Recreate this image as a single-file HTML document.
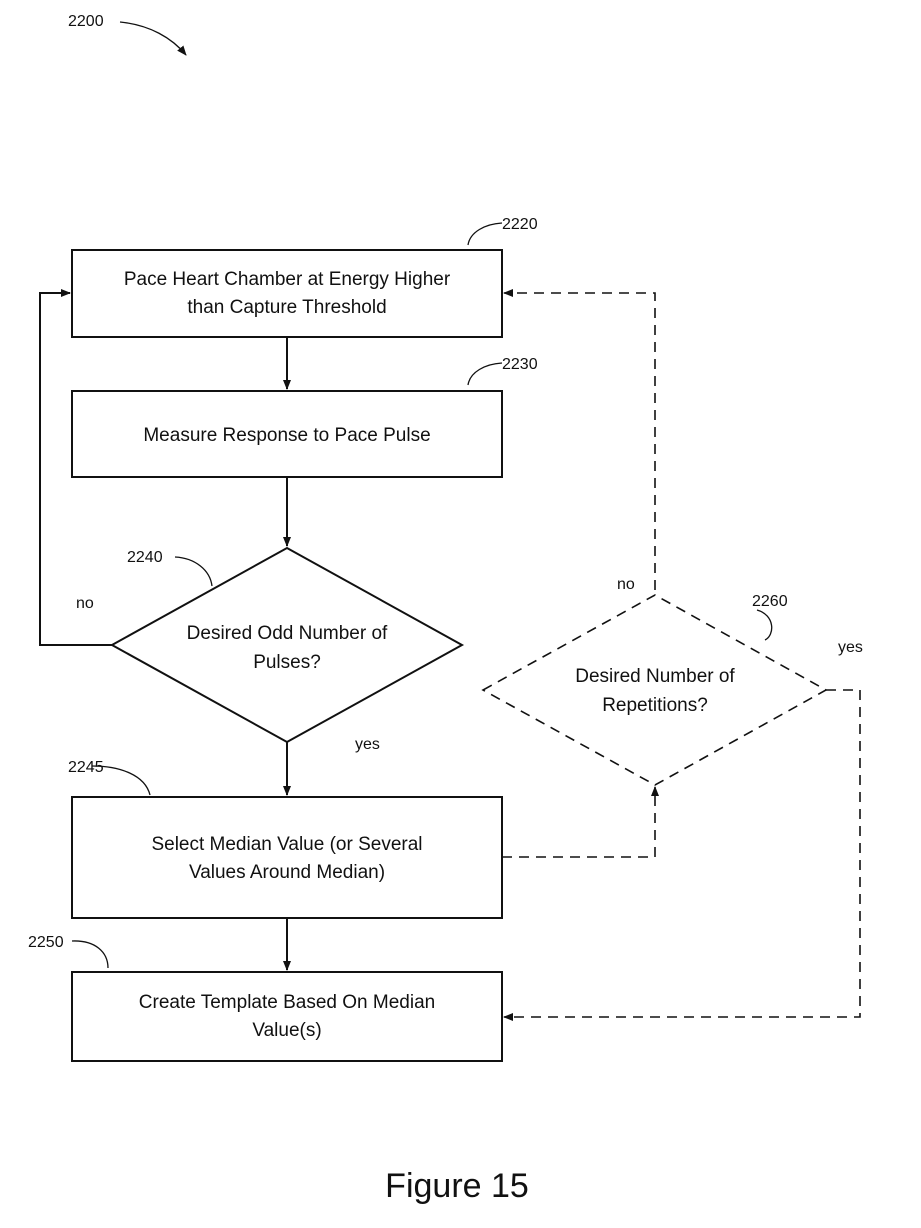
<!DOCTYPE html>
<html><head><style>
body{margin:0;background:#fff;}
svg{display:block;}
text{font-family:"Liberation Sans",Arial,sans-serif;fill:#111;}
</style></head><body>
<svg width="921" height="1228" viewBox="0 0 921 1228" xmlns="http://www.w3.org/2000/svg">
<defs>
<marker id="a" markerWidth="10" markerHeight="10" refX="9" refY="5" orient="auto" markerUnits="userSpaceOnUse">
<path d="M0,1 L10,5 L0,9 z" fill="#111"/></marker>
</defs>
<g stroke="#111" stroke-width="2" fill="none">
<rect x="72" y="250" width="430" height="87"/>
<rect x="72" y="391" width="430" height="86"/>
<polygon points="112,645 287,548 462,645 287,742"/>
<rect x="72" y="797" width="430" height="121"/>
<rect x="72" y="972" width="430" height="89"/>
<line x1="287" y1="337" x2="287" y2="389" marker-end="url(#a)"/>
<line x1="287" y1="477" x2="287" y2="546" marker-end="url(#a)"/>
<line x1="287" y1="742" x2="287" y2="795" marker-end="url(#a)"/>
<line x1="287" y1="918" x2="287" y2="970" marker-end="url(#a)"/>
<polyline points="112,645 40,645 40,293 70,293" marker-end="url(#a)"/>
<g stroke-dasharray="10,7" stroke-width="1.6">
<polygon points="483,690 655,595 826,690 655,785"/>
<polyline points="655,590 655,293 504,293" marker-end="url(#a)"/>
<polyline points="502,857 655,857 655,787" marker-end="url(#a)"/>
<polyline points="826,690 860,690 860,1017 504,1017" marker-end="url(#a)"/>
</g>
<g stroke-width="1.3">
<path d="M120,22 C150,25 172,38 186,55" marker-end="url(#a)"/>
<path d="M468,245 C470,232 485,224 502,223"/>
<path d="M468,385 C470,372 485,364 502,363"/>
<path d="M175,557 C195,558 210,570 212,586"/>
<path d="M92,766 C120,766 145,775 150,795"/>
<path d="M72,941 C95,940 108,952 108,968"/>
<path d="M757,610 C775,615 775,635 765,640"/>
</g>
</g>
<g font-size="19" text-anchor="middle">
<text x="287" y="285">Pace Heart Chamber at Energy Higher</text>
<text x="287" y="313">than Capture Threshold</text>
<text x="287" y="441">Measure Response to Pace Pulse</text>
<text x="287" y="639">Desired Odd Number of</text>
<text x="287" y="668">Pulses?</text>
<text x="287" y="850">Select Median Value (or Several</text>
<text x="287" y="878">Values Around Median)</text>
<text x="287" y="1008">Create Template Based On Median</text>
<text x="287" y="1036">Value(s)</text>
<text x="655" y="682">Desired Number of</text>
<text x="655" y="711">Repetitions?</text>
</g>
<g font-size="16">
<text x="68" y="26">2200</text>
<text x="502" y="229">2220</text>
<text x="502" y="369">2230</text>
<text x="127" y="562">2240</text>
<text x="76" y="608">no</text>
<text x="355" y="749">yes</text>
<text x="68" y="772">2245</text>
<text x="28" y="947">2250</text>
<text x="617" y="589">no</text>
<text x="752" y="606">2260</text>
<text x="838" y="652">yes</text>
</g>
<text x="457" y="1197" font-size="34" text-anchor="middle">Figure 15</text>
</svg>
</body></html>
